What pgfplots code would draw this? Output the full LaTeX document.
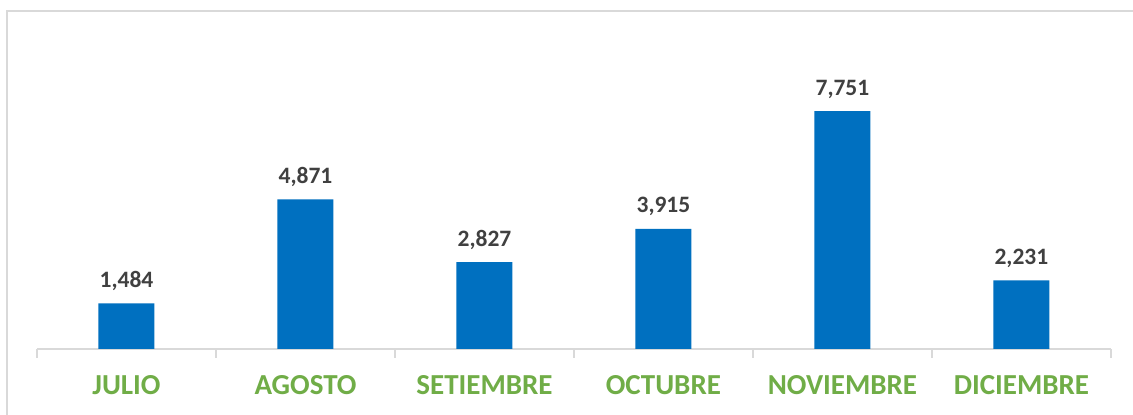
\documentclass[border=0pt]{standalone}
\usepackage{pgfplots}
\pgfplotsset{compat=1.18}
\usepackage{fontspec}
\setmainfont{Carlito}
\definecolor{barblue}{HTML}{0070C0}
\definecolor{catgreen}{HTML}{70AD47}
\definecolor{valgray}{HTML}{404040}
\definecolor{linegray}{HTML}{D9D9D9}
\begin{document}
\begin{tikzpicture}[x=1pt,y=1pt]
\path[use as bounding box, fill=white] (0,0) rectangle (1133,415);
\draw[linegray, line width=2pt] (7,0) -- (7,404) -- (1133,404);
\begin{axis}[
  at={(37pt,66pt)}, anchor=south west,
  scale only axis, width=1074pt, height=338pt,
  xmin=-0.5, xmax=5.5, ymin=0, ymax=11008,
  axis x line=bottom, axis y line=none,
  axis line style={draw=linegray, line width=1.5pt, -},
  xtick={0,1,2,3,4,5},
  xticklabels={JULIO,AGOSTO,SETIEMBRE,OCTUBRE,NOVIEMBRE,DICIEMBRE},
  major tick length=0pt,
  minor xtick={-0.5,0.5,1.5,2.5,3.5,4.5,5.5},
  minor tick length=9pt,
  tick align=outside,
  minor tick style={draw=linegray, line width=1.5pt},
  xticklabel style={font=\fontsize{29}{31}\selectfont\bfseries, text=catgreen, yshift=-23pt},
  /pgf/number format/assume math mode=true,
  ybar, bar width=56pt,
  nodes near coords={\pgfmathprintnumber[fixed,precision=0,1000 sep={,}]{\pgfplotspointmeta}},
  every node near coord/.append style={anchor=base, yshift=16pt, font=\fontsize{23.5}{26}\selectfont\bfseries, text=valgray},
  clip=false,
]
\addplot[fill=barblue, draw=none] coordinates {(0,1484) (1,4871) (2,2827) (3,3915) (4,7751) (5,2231)};
\end{axis}
\end{tikzpicture}
\end{document}
